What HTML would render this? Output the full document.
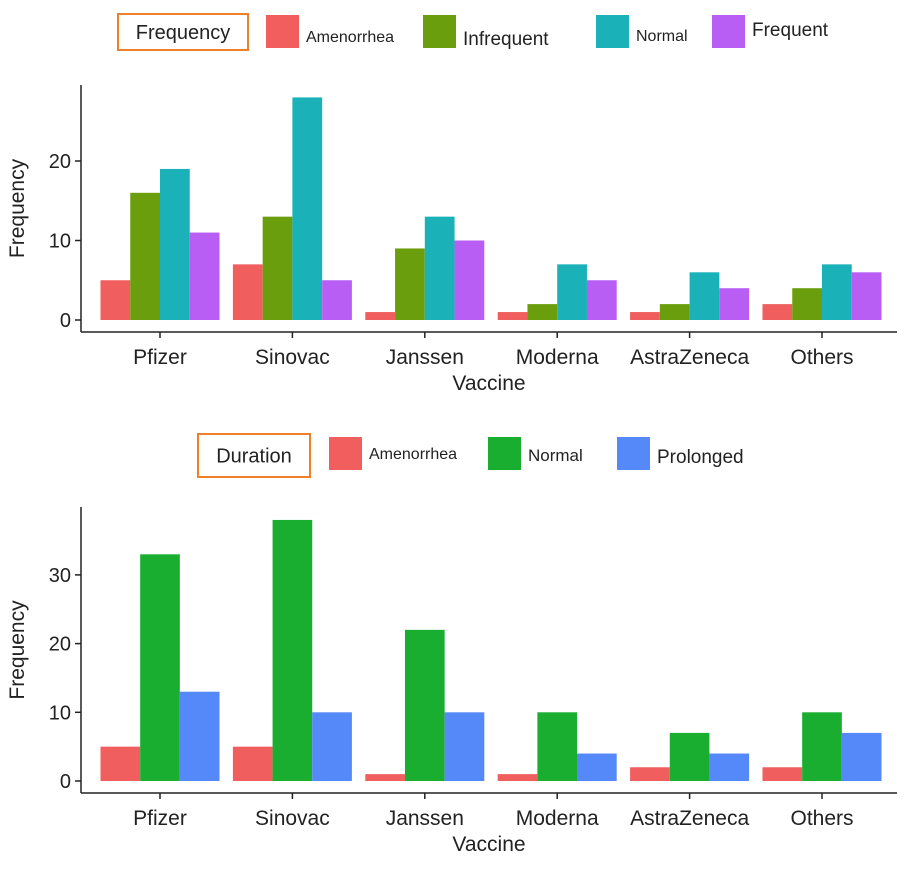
<!DOCTYPE html>
<html><head><meta charset="utf-8"><style>
body{margin:0;background:#fff;font-family:"Liberation Sans",Arial,sans-serif}
svg text{font-family:"Liberation Sans",Arial,sans-serif;fill:#222}
</style></head><body>
<svg id="c" width="910" height="864"></svg>
<script>
const categories=["Pfizer","Sinovac","Janssen","Moderna","AstraZeneca","Others"];
const freqSeries=["Amenorrhea","Infrequent","Normal","Frequent"];
const freqColors=["#f05e5e","#6b9e0c","#1ab2b8","#b85ef5"];
const freqAmen=[5,7,1,1,1,2];
const freqInfreq=[16,13,9,2,2,4];
const freqNormal=[19,28,13,7,6,7];
const freqFrequent=[11,5,10,5,4,6];
const freqTicks=[0,10,20];
const durSeries=["Amenorrhea","Normal","Prolonged"];
const durColors=["#f05e5e","#1aae30","#5588f8"];
const durAmen=[5,5,1,1,2,2];
const durNormal=[33,38,22,10,7,10];
const durProlonged=[13,10,10,4,4,7];
const durTicks=[0,10,20,30];
const NS="http://www.w3.org/2000/svg";
const svg=document.getElementById('c');
function mk(tag,attrs,parent){const e=document.createElementNS(NS,tag);for(const k in attrs)e.setAttribute(k,attrs[k]);(parent||svg).appendChild(e);return e;}
function panel(p){
  const g=mk('g',{});
  
  
  const y=v=>p.y0-v*p.ppu;
  const x=i=>160+i*132.4;
  const gw=119, bw=gw/p.series.length;
  p.data.forEach((arr,s)=>arr.forEach((v,i)=>{
    const r=mk('rect',{x:x(i)-gw/2+s*bw,y:y(v),width:bw,height:v*p.ppu,fill:p.colors[s]},g);
    
    
  }));
  mk('line',{x1:81,y1:p.top,x2:81,y2:p.bot,stroke:'#222','stroke-width':1.5},g);
  mk('line',{x1:81,y1:p.bot,x2:897,y2:p.bot,stroke:'#222','stroke-width':1.5},g);
  p.ticks.forEach(t=>{
    mk('line',{x1:75,x2:81,y1:y(t),y2:y(t),stroke:'#222','stroke-width':1.5},g);
    const tx=mk('text',{x:71,y:y(t)+7,'text-anchor':'end','font-size':20},g);tx.textContent=t;
    
    
  });
  categories.forEach((c,i)=>{
    mk('line',{x1:x(i),x2:x(i),y1:p.bot,y2:p.bot+6,stroke:'#222','stroke-width':1.5},g);
    const tx=mk('text',{x:x(i),y:p.bot+32,'text-anchor':'middle','font-size':21},g);tx.textContent=c;
    
    
  });
  const xt=mk('text',{x:489,y:p.bot+58,'text-anchor':'middle','font-size':21},g);xt.textContent='Vaccine';
  
  
  const cy=(p.top+p.bot)/2;
  const yt=mk('text',{x:24,y:cy,'text-anchor':'middle','font-size':21,transform:`rotate(-90 24 ${cy})`},g);yt.textContent='Frequency';
  
  
  // legend
  const L=p.legend;
  const box=mk('rect',{x:L.bx,y:L.by,width:L.bw,height:L.bh,fill:'none',stroke:'#f07f2a','stroke-width':2},g);
  
  
  const lt=mk('text',{x:L.bx+L.bw/2,y:L.by+L.bh/2+7,'text-anchor':'middle','font-size':20},g);lt.textContent=L.title;
  
  
  p.series.forEach((s,k)=>{
    const e=mk('g',{},g);
    
    
    mk('rect',{x:L.kx[k],y:L.ky,width:33,height:33,fill:p.colors[k]},e);
    const t=mk('text',{x:L.kx[k]+40,y:L.ky+L.ty[k],'font-size':L.fs[k]},e);t.textContent=s;
  });
}
panel({name:'frequency-panel',series:freqSeries,colors:freqColors,data:[freqAmen,freqInfreq,freqNormal,freqFrequent],ticks:freqTicks,
 y0:320,ppu:7.95,top:85,bot:332,
 legend:{title:'Frequency',bx:118,by:14,bw:130,bh:36,kx:[266,423,596,712],ky:15,ty:[27,30,26,21],fs:[16,19,16,19]}});
panel({name:'duration-panel',series:durSeries,colors:durColors,data:[durAmen,durNormal,durProlonged],ticks:durTicks,
 y0:781,ppu:6.87,top:507,bot:793,
 legend:{title:'Duration',bx:198,by:434,bw:112,bh:43,kx:[329,488,617],ky:437,ty:[22,24,26],fs:[16,17,19]}});
</script>
</body></html>
